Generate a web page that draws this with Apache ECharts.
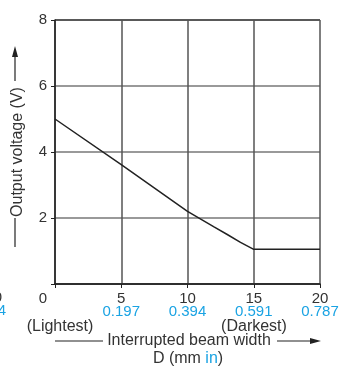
<!DOCTYPE html>
<html>
<head>
<meta charset="utf-8">
<script src="https://cdn.jsdelivr.net/npm/echarts@6/dist/echarts.min.js"></script>
<style>
  html, body { margin: 0; padding: 0; background: #fff; }
  #chart { width: 339px; height: 368px; }
</style>
</head>
<body>
<div id="chart"></div>
<script>
// beam width D (mm) vs output voltage (V)
const widthMm = [0, 5, 10, 12, 13, 14, 15, 20];
const outputV = [5, 3.62, 2.2, 1.73, 1.5, 1.26, 1.05, 1.05];

const xTicksMm = [0, 5, 10, 15, 20];
const xTicksIn = ["", "0.197", "0.394", "0.591", "0.787"];

const GRAY = "#333";
const BLUE = "#1aa3e3";
const GRID = "#777";
const FONT = "'Liberation Sans', Arial, sans-serif";
const NUM = "15px " + FONT;
const TXT = "16px " + FONT;

const chart = echarts.init(document.getElementById("chart"), null, { renderer: "canvas" });

function label(text, x, y, color) {
  return {
    type: "text", x: x, y: y,
    style: { text: text, fill: color || GRAY, font: TXT, align: "center", verticalAlign: "middle" }
  };
}

const option = {
  animation: false,
  grid: { left: 55, right: 19, top: 20, bottom: 84, outerBoundsMode: "none" },
  xAxis: {
    type: "value",
    min: 0,
    max: 20,
    interval: 5,
    axisLine: { show: true, lineStyle: { color: "#222", width: 1.5 } },
    axisTick: { show: true, inside: false, length: 4, lineStyle: { color: "#222" } },
    splitLine: { show: true, lineStyle: { color: "#555", width: 1.5 } },
    axisLabel: {
      margin: 8,
      formatter: (v) => {
        const i = xTicksMm.indexOf(v);
        if (v === 0) return "{z|0}";
        return "{a|" + v + "}\n{b|" + xTicksIn[i] + "}";
      },
      rich: {
        a: { fontSize: 15, color: GRAY, fontFamily: FONT, lineHeight: 13.5 },
        b: { fontSize: 15, color: BLUE, fontFamily: FONT, lineHeight: 13.5 },
        z: { fontSize: 15, color: GRAY, fontFamily: FONT, lineHeight: 13.5, padding: [0, 24, 0, 0] }
      }
    }
  },
  yAxis: {
    type: "value",
    min: 0,
    max: 8,
    interval: 2,
    name: "Output voltage (V)",
    nameLocation: "middle",
    nameGap: 29,
    nameTextStyle: { fontSize: 16, color: GRAY, fontFamily: FONT },
    axisLine: { show: true, lineStyle: { color: "#222", width: 1.5 } },
    axisTick: { show: true, inside: false, length: 4, lineStyle: { color: "#222" } },
    splitLine: { show: true, lineStyle: { color: ["#222", GRID, GRID, GRID, "#222"], width: 1.5 } },
    axisLabel: {
      margin: 8,
      fontSize: 15,
      color: GRAY,
      fontFamily: FONT,
      formatter: (v) => (v === 0 ? "" : String(v))
    }
  },
  series: [
    {
      type: "line",
      data: widthMm.map((d, i) => [d, outputV[i]]),
      showSymbol: false,
      smooth: false,
      lineStyle: { color: "#222", width: 1.5 },
      z: 5
    }
  ],
  graphic: [
    // cut-off labels from the neighbouring panel
    { type: "text", x: 2, y: 298, style: { text: "10", fill: GRAY, font: NUM, align: "right", verticalAlign: "middle" } },
    { type: "text", x: 6, y: 311, style: { text: "0.394", fill: BLUE, font: NUM, align: "right", verticalAlign: "middle" } },
    label("(Lightest)", 60, 327),
    label("(Darkest)", 254, 327),
    label("Interrupted beam width", 189, 341),
    {
      type: "text", x: 188, y: 359,
      style: {
        text: "{a|D (mm }{b|in}{a|)}",
        align: "center", verticalAlign: "middle",
        rich: {
          a: { fill: GRAY, fontSize: 16, fontFamily: FONT },
          b: { fill: BLUE, fontSize: 16, fontFamily: FONT }
        }
      }
    },
    // x title arrow
    { type: "line", shape: { x1: 55, y1: 341, x2: 103, y2: 341 }, style: { stroke: "#222", lineWidth: 1.2 } },
    { type: "line", shape: { x1: 277, y1: 341, x2: 312, y2: 341 }, style: { stroke: "#222", lineWidth: 1.2 } },
    { type: "polygon", shape: { points: [[321, 341], [310, 338], [310, 344]] }, style: { fill: "#222" } },
    // y title arrow
    { type: "line", shape: { x1: 15, y1: 218, x2: 15, y2: 247 }, style: { stroke: "#222", lineWidth: 1.2 } },
    { type: "line", shape: { x1: 15, y1: 55, x2: 15, y2: 81 }, style: { stroke: "#222", lineWidth: 1.2 } },
    { type: "polygon", shape: { points: [[15, 46], [12, 57], [18, 57]] }, style: { fill: "#222" } }
  ]
};

chart.setOption(option);
</script>
</body>
</html>
